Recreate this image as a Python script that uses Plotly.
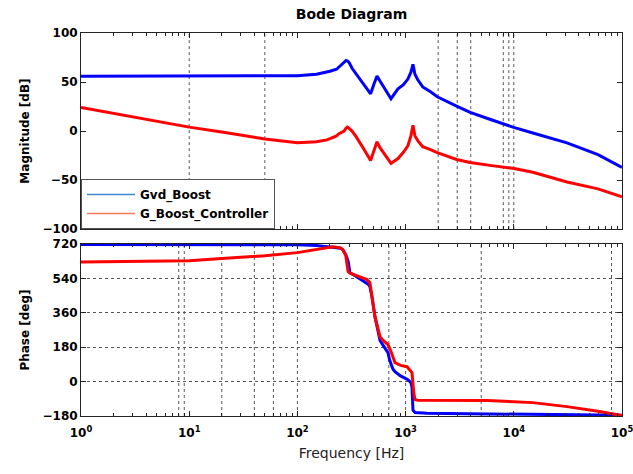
import plotly.graph_objects as go

# ---------------- data ----------------
freq_mag = [1, 2, 5, 10, 20, 50, 100, 150, 188, 200, 230, 240, 270, 282, 290, 300, 320, 350,
            380, 420, 475, 510, 544, 580, 650, 733, 850, 950, 1050, 1120, 1170, 1220,
            1300, 1440, 1700, 1960, 2960, 3950, 6000, 9800, 15000, 31000, 60000, 100000]
mag_gvd = [56, 56, 56, 56, 56, 56, 56.5, 58, 60, 61, 63, 65, 70, 72, 71.5, 70, 64, 58,
           52, 46, 38, 48, 56, 51, 42, 33, 43, 47, 53, 60, 68, 58,
           52, 45, 40, 35, 25.5, 19, 12, 4, -2, -12, -24, -37]
mag_ctrl = [24, 18, 10, 4, -1, -8, -12, -11, -9, -8, -5, -3, 0, 3, 4, 3, 0, -6,
            -12, -20, -30, -20, -11, -17, -25, -33, -28, -22, -15, -5, 6, -5,
            -10, -16, -19, -22, -29, -32, -35, -38, -42, -52, -59, -67]

freq_ph_gvd = [1, 10, 60, 100, 150, 213, 250, 263, 280, 295, 306, 350, 400, 450, 468, 490,
               521, 544, 580, 620, 687, 714, 765, 798, 890, 1050, 1120, 1146, 1170, 1222,
               1400, 1578, 3690, 10000, 30000, 100000]
ph_gvd = [718, 718, 717, 716, 712, 705, 698, 690, 665, 628, 570, 550, 530, 510, 497, 440,
          340, 290, 215, 190, 152, 110, 65, 52, 31, 10, -5, -30, -150, -162,
          -164, -165, -168, -171, -173, -176]

freq_ph_ctrl = [1, 5, 10, 20, 50, 100, 150, 213, 250, 263, 280, 294, 306, 350, 400, 440, 468,
                490, 521, 580, 620, 687, 730, 798, 900, 1030, 1100, 1146, 1190, 1222,
                1300, 2000, 5650, 15000, 31000, 60000, 100000]
ph_ctrl = [626, 630, 633, 644, 659, 675, 690, 706, 700, 690, 660, 576, 568, 555, 545, 534, 518,
           440, 340, 235, 215, 194, 160, 99, 85, 78, 60, 47, -60, -94,
           -97, -98, -99, -110, -131, -155, -178]

series_names = ["Gvd_Boost", "G_Boost_Controller"]
x_tickvals = [1, 10, 100, 1000, 10000, 100000]
x_ticktext = ["10<sup>0</sup>", "10<sup>1</sup>", "10<sup>2</sup>",
              "10<sup>3</sup>", "10<sup>4</sup>", "10<sup>5</sup>"]
mag_ticks = [-100, -50, 0, 50, 100]
ph_ticks = [-180, 0, 180, 360, 540, 720]
# stray dotted vertical grid lines seen in the reference
grid_mag = [10, 50, 2000, 3000, 4000, 8000, 9000, 10000]
grid_ph = [8, 9, 20, 40, 60, 100, 700, 1000, 5000, 80000]

# ---------------- figure ----------------
FONT = "DejaVu Sans"
BLUE, RED = "#0000ff", "#ff0000"
minor_vals = [k * 10 ** n for n in range(0, 5) for k in range(2, 10)]

fig = go.Figure()
fig.add_trace(go.Scatter(x=freq_mag, y=mag_gvd, mode="lines", line=dict(color=BLUE, width=3),
                         showlegend=False, xaxis="x", yaxis="y"))
fig.add_trace(go.Scatter(x=freq_mag, y=mag_ctrl, mode="lines", line=dict(color=RED, width=3),
                         showlegend=False, xaxis="x", yaxis="y"))
fig.add_trace(go.Scatter(x=freq_ph_gvd, y=ph_gvd, mode="lines", line=dict(color=BLUE, width=3),
                         showlegend=False, xaxis="x2", yaxis="y2"))
fig.add_trace(go.Scatter(x=freq_ph_ctrl, y=ph_ctrl, mode="lines", line=dict(color=RED, width=3),
                         showlegend=False, xaxis="x2", yaxis="y2"))
# legend entries
fig.add_trace(go.Scatter(x=[None], y=[None], mode="lines", name=series_names[0],
                         line=dict(color="#3d86d6", width=1.5), xaxis="x", yaxis="y"))
fig.add_trace(go.Scatter(x=[None], y=[None], mode="lines", name=series_names[1],
                         line=dict(color="#f37a5c", width=1.5), xaxis="x", yaxis="y"))

shapes = []
for f in grid_mag:
    shapes.append(dict(type="line", xref="x", yref="y domain", x0=f, x1=f, y0=0, y1=1,
                       line=dict(color="#555", width=1, dash="dot"), layer="below"))
for f in grid_ph:
    shapes.append(dict(type="line", xref="x2", yref="y2 domain", x0=f, x1=f, y0=0, y1=1,
                       line=dict(color="#555", width=1, dash="dot"), layer="below"))

common_x = dict(type="log", range=[0, 5], tickvals=x_tickvals, ticktext=x_ticktext,
                ticks="inside", ticklen=5, tickcolor="#222", showline=True, linecolor="#222",
                linewidth=1, mirror="ticks", showgrid=False, zeroline=False,
                ticklabeloverflow="allow", automargin=False,
                tickfont=dict(family=FONT, size=12, color="black", weight="bold"),
                minor=dict(ticks="inside", ticklen=3, tickvals=minor_vals, tickcolor="#222",
                           showgrid=False))

fig.update_layout(
    width=633, height=474,
    margin=dict(l=81, r=11, t=33, b=58),
    paper_bgcolor="white", plot_bgcolor="white",
    font=dict(family=FONT, color="black"),
    title=dict(text="<b>Bode Diagram</b>", x=0.5, xref="paper", xanchor="center",
               y=1 - 14 / 474, yref="container", yanchor="middle",
               font=dict(family=FONT, size=14, color="black")),
    xaxis=dict(common_x, domain=[0, 1], anchor="y", showticklabels=False, matches="x2"),
    yaxis=dict(domain=[0.488, 1], anchor="x", range=[-100, 100], tickvals=mag_ticks,
               ticks="inside", ticklen=5, tickcolor="#222", showline=True, linecolor="#222",
               mirror="ticks", showgrid=False, zeroline=False, automargin=False,
               tickfont=dict(family=FONT, size=12, color="black", weight="bold"),
               title=dict(text="Magnitude [dB]", standoff=10,
                          font=dict(family=FONT, size=12, color="black", weight="bold"))),
    xaxis2=dict(common_x, domain=[0, 1], anchor="y2", ticklabelstandoff=6,
                title=dict(text="Frequency [Hz]", standoff=8,
                           font=dict(family=FONT, size=14, color="#222"))),
    yaxis2=dict(domain=[0, 0.449], anchor="x2", range=[-180, 720], tickvals=ph_ticks,
                ticks="inside", ticklen=5, tickcolor="#222", showline=True, linecolor="#222",
                mirror="ticks", showgrid=True, gridcolor="#555", griddash="dot", gridwidth=1,
                zeroline=False, automargin=False,
                tickfont=dict(family=FONT, size=12, color="black", weight="bold"),
                title=dict(text="Phase [deg]", standoff=10,
                           font=dict(family=FONT, size=12, color="black", weight="bold"))),
    legend=dict(x=0, y=0.488, xanchor="left", yanchor="bottom", bgcolor="white",
                bordercolor="#555", borderwidth=1, itemwidth=48,
                font=dict(family=FONT, size=12, color="black", weight="bold"),
                tracegroupgap=0),
    shapes=shapes,
)

fig.write_html("out.html")
